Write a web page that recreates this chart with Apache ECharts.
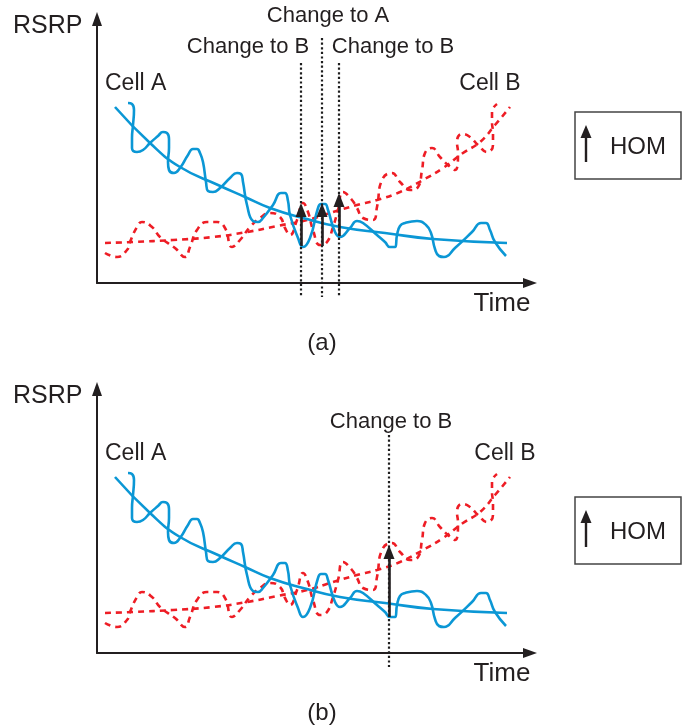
<!DOCTYPE html>
<html>
<head>
<meta charset="utf-8">
<script src="https://cdn.jsdelivr.net/npm/echarts@6/dist/echarts.min.js"></script>
<style>
  html, body { margin: 0; padding: 0; background: #fff; }
  #chart { width: 699px; height: 725px; }
</style>
</head>
<body>
<div id="chart"></div>
<script>
// RSRP traces over time, as [time, rsrp] in plot units.
// Serving cell A: average path loss trend and the fading signal around it.
const cellATrend = [
  [18, 176], [53, 140], [83, 116], [121, 98], [148, 86], [173, 75],
  [206, 65], [243, 56], [288, 50], [336, 44], [410, 40]
];
const cellAFading = [
  [31, 180], [35, 179], [37, 173], [36, 158], [35, 145], [35, 135], [40, 131],
  [46, 133], [53, 140], [61, 147], [66, 151], [70, 150], [72, 144], [72, 135], [71, 121],
  [72, 113], [77, 110], [83, 115], [91, 128], [96, 134], [100, 134], [103, 130], [106, 121],
  [109, 101], [111, 92], [116, 91], [123, 95], [133, 105], [140, 110], [144, 109],
  [146, 101], [150, 78], [156, 62], [161, 61], [166, 65], [176, 78], [184, 90], [188, 90],
  [191, 82], [193, 68], [201, 45], [206, 36], [213, 45], [221, 75], [224, 79], [228, 79],
  [231, 73], [238, 51], [243, 46], [253, 55], [260, 62], [266, 60], [280, 48], [288, 41],
  [293, 36], [298, 36], [300, 48], [303, 57], [308, 60], [320, 62], [329, 58], [334, 50],
  [338, 34], [342, 27], [347, 26], [358, 35], [375, 51], [384, 60], [389, 60], [393, 53],
  [398, 41], [409, 27]
];
// Target cell B: rising trend and its fading signal.
const cellBTrend = [
  [8, 40], [36, 41], [76, 43], [116, 46], [150, 51], [180, 57], [210, 63],
  [236, 71], [260, 78], [280, 83], [303, 91], [326, 103], [346, 115],
  [366, 130], [383, 141], [398, 158], [413, 176]
];
const cellBFading = [
  [8, 30], [20, 26], [30, 33], [33, 41], [40, 56], [45, 61], [55, 56], [63, 46],
  [78, 35], [88, 26], [93, 36], [100, 53], [110, 61], [120, 61], [128, 55],
  [135, 36], [143, 43], [153, 56], [163, 65], [173, 70], [183, 66], [188, 55],
  [193, 48], [200, 63], [206, 80], [211, 71], [216, 53], [223, 38], [230, 41],
  [236, 56], [241, 73], [246, 91], [255, 83], [260, 75], [266, 65], [276, 63],
  [280, 76], [285, 103], [295, 110], [303, 101], [313, 93], [321, 96],
  [325, 113], [328, 130], [335, 135], [343, 126], [351, 118], [358, 113],
  [361, 130], [360, 141], [365, 149], [373, 146], [381, 138], [390, 131],
  [396, 138], [396, 150], [395, 161], [395, 171], [400, 179]
];

// Handover instants and HOM arrows (base on the serving signal, rise = HOM).
const handoversA = [204, 225, 242];
const handoverTopsA = [220, 245, 220];
const homBasesA = [[204, 37], [225, 37], [242, 47]];
const homA = 43;

const handoversB = [292];
const handoverTopsB = [218];
const homBasesB = [[292, 36]];
const homB = 72;

const switchLabelsA = ['Change to B', 'Change to A', 'Change to B'];
const switchLabelsB = ['Change to B'];
const cellLabels = ['Cell A', 'Cell B'];
const panelCaptions = ['(a)', '(b)'];

const X_MAX = 433, Y_MAX = 264;
const INK = '#231f20';
const BLUE = '#0b97d5';
const RED = '#ee1d25';
const FONT = "'Liberation Sans', Arial, Helvetica, sans-serif";
const HEAD = [11, 14];

const chart = echarts.init(document.getElementById('chart'));

const grids = [
  { left: 97, top: 19, width: X_MAX, height: Y_MAX },
  { left: 97, top: 389, width: X_MAX, height: Y_MAX }
];

function axisLine() {
  return {
    show: true, onZero: false,
    symbol: ['none', 'triangle'], symbolSize: [10, 14],
    lineStyle: { color: INK, width: 2 }
  };
}

const xAxes = grids.map((g, i) => ({
  gridIndex: i, type: 'value', min: 0, max: X_MAX,
  axisLine: axisLine(), axisTick: { show: false },
  axisLabel: { show: false }, splitLine: { show: false }
}));
const yAxes = grids.map((g, i) => ({
  gridIndex: i, type: 'value', min: 0, max: Y_MAX,
  axisLine: axisLine(), axisTick: { show: false },
  axisLabel: { show: false }, splitLine: { show: false }
}));

function panelSeries(i, handovers, tops, bases, hom) {
  const common = {
    xAxisIndex: i, yAxisIndex: i, type: 'line', showSymbol: false,
    symbol: 'none', silent: true, animation: false
  };
  const list = [
    Object.assign({}, common, {
      name: 'B trend', data: cellBTrend, smooth: 0.5, z: 2,
      lineStyle: { color: RED, width: 2.6, type: [6, 5] }
    }),
    Object.assign({}, common, {
      name: 'B fading', data: cellBFading, smooth: 0.5, z: 2,
      lineStyle: { color: RED, width: 2.6, type: [6, 5] }
    }),
    Object.assign({}, common, {
      name: 'A trend', data: cellATrend, smooth: 0.5, z: 3,
      lineStyle: { color: BLUE, width: 2.6 }
    }),
    Object.assign({}, common, {
      name: 'A fading', data: cellAFading, smooth: 0.5, z: 3,
      lineStyle: { color: BLUE, width: 2.6 }
    })
  ];
  // dotted handover markers, running a little below the time axis
  handovers.forEach((x, k) => {
    list.push(Object.assign({}, common, {
      name: 'handover ' + k, clip: false, z: 4,
      data: [[x, tops[k]], [x, -14]],
      lineStyle: { color: '#1e1e1e', width: 2.2, type: [2.2, 2.4] }
    }));
  });
  // HOM arrows
  list.push(Object.assign({}, common, {
    name: 'HOM', data: [], z: 5,
    markLine: {
      silent: true, animation: false,
      symbol: ['none', 'triangle'], symbolSize: HEAD,
      label: { show: false },
      lineStyle: { color: INK, width: 2.6, type: 'solid' },
      data: bases.map(b => [
        { coord: [b[0], b[1]] },
        { coord: [b[0], b[1] + hom - HEAD[1] / 2] }
      ])
    }
  }));
  return list;
}

const series = []
  .concat(panelSeries(0, handoversA, handoverTopsA, homBasesA, homA))
  .concat(panelSeries(1, handoversB, handoverTopsB, homBasesB, homB));

function txt(text, x, y, size, align) {
  return {
    type: 'text', x: x, y: y, silent: true,
    style: {
      text: text, fill: INK, font: size + 'px ' + FONT,
      align: align || 'center', verticalAlign: 'middle',
      textAlign: align || 'center', textVerticalAlign: 'middle'
    }
  };
}

function homKey(top) {
  return [
    { type: 'rect', silent: true,
      shape: { x: 575, y: top, width: 106, height: 67 },
      style: { fill: '#fff', stroke: '#444', lineWidth: 1.5 } },
    { type: 'line', silent: true,
      shape: { x1: 586, y1: top + 50, x2: 586, y2: top + 22 },
      style: { stroke: INK, lineWidth: 2.4 } },
    { type: 'polygon', silent: true,
      shape: { points: [[580.5, top + 26], [591.5, top + 26], [586, top + 13]] },
      style: { fill: INK } },
    txt('HOM', 638, top + 35, 24)
  ];
}

const graphics = [
  // panel (a)
  txt('RSRP', 13, 26, 25, 'left'),
  txt(switchLabelsA[1], 328, 16, 22),
  txt(switchLabelsA[0], 248, 47, 22),
  txt(switchLabelsA[2], 393, 47, 22),
  txt(cellLabels[0], 105, 84, 23, 'left'),
  txt(cellLabels[1], 490, 84, 23),
  txt('Time', 502, 304, 26),
  txt(panelCaptions[0], 322, 343, 24),
  // panel (b)
  txt('RSRP', 13, 396, 25, 'left'),
  txt(switchLabelsB[0], 391, 422, 22),
  txt(cellLabels[0], 105, 454, 23, 'left'),
  txt(cellLabels[1], 505, 454, 23),
  txt('Time', 502, 674, 26),
  txt(panelCaptions[1], 322, 713, 24)
].concat(homKey(112)).concat(homKey(497));

chart.setOption({
  backgroundColor: '#fff',
  animation: false,
  grid: grids,
  xAxis: xAxes,
  yAxis: yAxes,
  series: series,
  graphic: { elements: graphics }
});
</script>
</body>
</html>
